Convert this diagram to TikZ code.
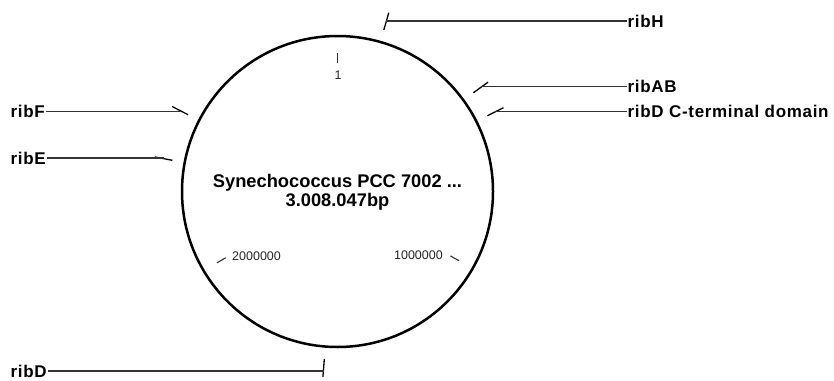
\documentclass[tikz,border=0pt]{standalone}
\usepackage{fontspec}
\setmainfont{Liberation Sans}
\newfontfamily\genefont[LetterSpace=4]{Liberation Sans}
\usetikzlibrary{calc}
\begin{document}
\begin{tikzpicture}[x=1pt,y=1pt,
  gene/.style={font=\genefont\fontsize{17}{17}\selectfont\bfseries, inner sep=1pt, text height=12.2pt, text depth=0pt},
  poslab/.style={font=\fontsize{12.5}{12.5}\selectfont, text=black!85, inner sep=0pt},
  conn/.style={draw=black!80, line width=1.4pt},
  gtick/.style={draw=black, line width=1.3pt},
  ptick/.style={draw=black!80, line width=1.1pt}]
\useasboundingbox (0,0) rectangle (834,-380);
\coordinate (C) at (337.5,-191.5);
\draw[line width=2.5pt] (C) circle (155.5);
% position ticks
\draw[ptick] ($(C)+(90:129)$) -- ($(C)+(90:139)$);
\draw[ptick] ($(C)+(-29.68:130)$) -- ($(C)+(-29.68:140)$);
\draw[ptick] ($(C)+(-149.36:130)$) -- ($(C)+(-149.36:140)$);
\node[poslab] (p1) at (338,-75) {1};
\node[poslab, anchor=east] (p2) at (443,-255.5) {1000000};
\node[poslab, anchor=west] (p3) at (232,-256.5) {2000000};
% centre
\node[font=\fontsize{18.3}{18.3}\selectfont\bfseries, inner sep=0pt] (t1) at (337.5,-182.5) {Synechococcus PCC 7002 ...};
\node[font=\fontsize{18.3}{18.3}\selectfont\bfseries, inner sep=0pt] (t2) at (337.5,-202) {3.008.047bp};
% gene ticks
\foreach \n/\a in {H/74, AB/36, DC/26.8, F/152.8, E/169.3, D/-94.5}{
  \coordinate (m\n) at ($(C)+(\a:177)$);
  \draw[gtick] ($(C)+(\a:168)$) -- ($(C)+(\a:186)$);
}
% gene labels
\node[gene, anchor=west] (lH) at (626.5,-21) {ribH};
\node[gene, anchor=west] (lAB) at (626.5,-86.7) {ribAB};
\node[gene, anchor=west] (lDC) at (626.5,-111.7) {ribD C-terminal domain};
\node[gene, anchor=west] (lF) at (9.5,-111.7) {ribF};
\node[gene, anchor=west] (lE) at (9.5,-158) {ribE};
\node[gene, anchor=west] (lD) at (9.5,-371) {ribD};
\draw[conn] (lH.west) -- (lH.west -| mH);
\draw[conn] (lAB.west) -- (lAB.west -| mAB);
\draw[conn] (lDC.west) -- (lDC.west -| mDC);
\draw[conn] (lF.east) -- (lF.east -| mF);
\draw[conn] (lE.east) -- (lE.east -| mE);
\draw[conn] (lD.east) -- (lD.east -| mD);
\end{tikzpicture}
\end{document}
